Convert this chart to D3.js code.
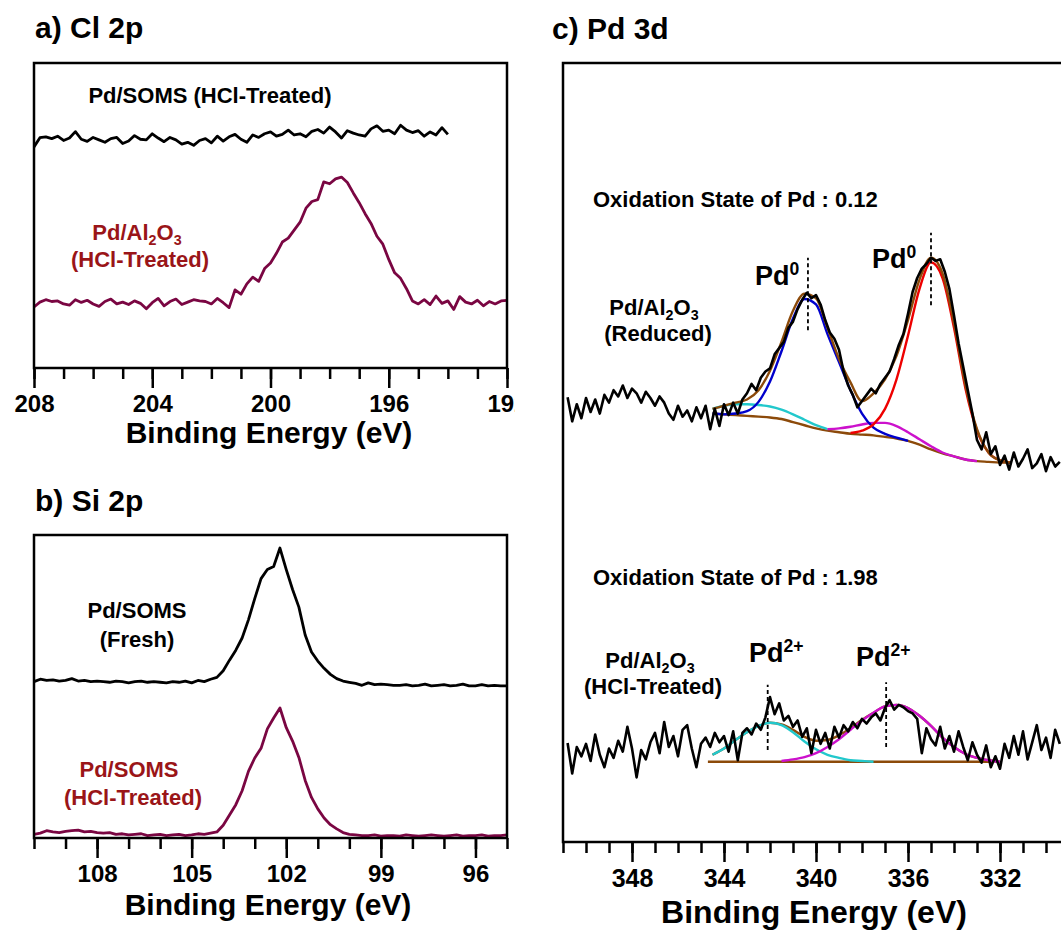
<!DOCTYPE html>
<html>
<head>
<meta charset="utf-8">
<script src="https://cdn.jsdelivr.net/npm/d3@7/dist/d3.min.js"></script>
<style>
body { margin: 0; background: #fff; }
text { font-family: "Liberation Sans", Arial, sans-serif; font-weight: bold; }
</style>
</head>
<body>
<svg id="chart" width="1061" height="932"></svg>
<script>
// ---- data (intensities in arbitrary units) ----

// a) Cl 2p
var clSomsRange = [208, 194];
var clSomsHcl = [72.5, 75.5, 75.8, 75.2, 76.0, 74.6, 75.4, 77.5, 75.0, 74.3, 75.6, 74.8, 74.0, 75.2, 75.6, 73.6,
	74.4, 76.2, 75.0, 74.8, 76.8, 75.4, 74.2, 75.6, 74.8, 73.4, 74.0, 73.0, 74.6, 75.2, 73.8, 76.0, 74.4, 75.8,
	76.6, 75.0, 74.0, 76.4, 75.6, 76.8, 77.4, 76.0, 76.6, 78.0, 76.4, 76.8, 75.8, 77.6, 78.2, 77.0, 79.0, 77.4,
	75.4, 77.8, 77.0, 76.4, 76.0, 78.4, 79.4, 77.6, 78.0, 76.8, 79.6, 78.0, 77.2, 77.8, 76.0, 77.4, 76.4, 78.8, 76.6];
var clAlRange = [208, 192];
var clAlHcl = [20.0, 21.6, 22.4, 21.8, 22.0, 21.0, 20.6, 22.4, 21.5, 22.2, 21.0, 20.2, 21.8, 22.6, 21.0, 21.6,
	20.8, 22.0, 21.2, 19.4, 21.4, 22.8, 20.4, 21.8, 22.6, 20.8, 21.6, 22.4, 22.0, 21.8, 21.0, 22.8, 21.4, 19.8,
	25.6, 24.2, 27.6, 29.8, 28.4, 32.6, 34.4, 37.6, 41.3, 42.6, 45.2, 47.8, 52.4, 54.6, 55.2, 61.0, 60.4, 62.0,
	62.6, 60.8, 57.4, 54.2, 50.6, 47.4, 43.2, 40.6, 35.6, 31.2, 29.4, 26.0, 22.0,
	21.0, 22.4, 20.8, 23.6, 21.2, 22.0, 19.2, 23.4, 21.6, 21.0, 22.2, 20.4, 21.8, 21.0, 22.0, 22.2];
var clTicks = [208, 204, 200, 196, 192];

// b) Si 2p
var siRange = [110, 95];
var siSomsFresh = [51.6, 52.4, 52.0, 52.2, 51.8, 52.0, 52.6, 51.8, 52.0, 51.6, 51.8, 51.6, 51.4, 51.8, 51.6, 51.2,
	51.6, 51.8, 51.4, 51.6, 51.4, 51.2, 51.6, 51.4, 51.8, 51.2, 52.0, 51.6, 52.4,
	53.0, 55.2, 58.7, 62.0, 66.0, 72.0, 79.0, 85.6, 88.6, 89.6, 95.7, 88.6, 82.0, 76.2, 67.0, 61.4, 58.4, 56.0,
	54.0, 52.6, 51.8,
	51.4, 51.0, 50.4, 51.2, 50.6, 50.8, 50.6, 50.4, 50.4, 50.6, 50.2, 50.4, 50.8, 50.2, 50.4, 50.6, 50.2, 50.4,
	50.8, 50.2, 50.2, 50.6, 50.2, 50.4, 50.2, 50.2];
var siSomsHcl = [1.2, 1.6, 2.4, 2.0, 1.8, 2.2, 2.4, 2.6, 2.0, 2.2, 1.8, 1.6, 1.8, 1.2, 1.4, 1.0, 1.2, 1.4, 0.8,
	1.0, 1.2, 0.8, 1.0, 1.2, 0.8, 1.0, 1.4, 1.2, 1.6,
	2.0, 4.2, 7.6, 11.0, 15.6, 22.0, 26.4, 29.6, 36.0, 39.6, 42.9, 36.4, 32.0, 26.6, 19.0, 13.4, 9.6, 6.6, 4.4,
	3.0, 1.8,
	1.2, 1.0, 0.8, 0.8, 1.0, 0.6, 0.8, 0.8, 0.6, 1.0, 0.8, 0.6, 0.8, 1.0, 0.8, 0.6, 0.8, 1.0, 0.6, 0.8, 0.8,
	1.0, 0.6, 0.8, 0.8, 1.0];
var siTicks = [108, 105, 102, 99, 96];

// c) Pd 3d
var pdRange = [350.8, 329.4];
var pdReduced = [57.1, 54.0, 56.2, 54.4, 57.0, 55.2, 56.8, 55.0, 57.4, 56.4, 58.0, 57.2, 58.6, 57.0, 58.2, 57.6,
	56.4, 57.8, 57.0, 56.0, 57.2, 56.4, 55.0, 54.2, 56.0,
	54.6, 55.4, 54.0, 55.8, 54.4, 56.0, 53.0, 55.6, 53.4, 56.2, 54.8, 56.4, 55.0, 56.8,
	57.6, 58.8, 58.0, 59.6, 60.4, 60.8, 62.6, 63.4, 64.2, 66.0, 66.8, 68.4, 69.6, 70.5, 69.8, 70.2, 69.0, 67.0,
	65.4, 64.6, 63.2, 60.4, 58.6, 57.4, 55.8, 56.6,
	57.4, 58.2, 57.6, 58.8, 59.6, 60.4, 62.0, 63.8, 65.2, 67.8, 70.6, 72.4, 73.6, 74.2, 75.0, 74.6, 74.8, 73.2,
	71.0, 67.6, 64.0, 61.0, 58.0, 55.0, 51.6,
	50.4, 52.6, 49.8, 50.8, 48.4, 49.6, 47.8, 50.0, 48.2, 49.2, 50.4, 48.0, 48.6, 49.8, 47.6, 49.4, 48.2, 48.8];
var pdHcl = [12.7, 8.8, 12.2, 11.0, 12.6, 10.4, 13.8, 11.2, 9.6, 12.0, 10.8, 13.0, 11.6, 14.8, 12.0, 8.3, 11.8,
	10.6, 12.8, 14.0, 11.4, 15.4, 12.2, 13.6, 11.0,
	14.4, 15.0, 12.0, 9.6, 12.6, 13.4, 12.2, 14.0, 12.8, 13.6, 11.6, 14.2, 10.5, 14.0,
	14.6, 13.8, 15.2, 14.4, 16.0, 18.6, 16.4, 17.8, 15.6, 16.2, 14.8, 15.6, 13.5, 14.6, 11.4, 14.4, 12.6, 14.0,
	12.0, 14.8, 13.4, 15.0, 14.2, 15.4, 14.6, 15.8,
	15.2, 16.0, 16.5, 15.6, 17.2, 18.2, 17.0, 17.6, 17.3, 16.8, 16.5, 15.8, 11.4, 14.6, 13.2, 12.4, 14.8, 12.0,
	13.6, 11.6, 14.2, 12.2, 10.5, 12.8, 11.2,
	10.2, 12.4, 9.6, 11.0, 9.4, 12.6, 10.8, 13.6, 11.2, 14.2, 10.6, 12.8, 15.0, 11.8, 13.4, 10.8, 14.4, 12.6];
var pdTicks = [348, 344, 340, 336, 332];

// peak fits, reduced sample (0.5 eV grid)
var redBgRange = [344.5, 331.5];
var redBg = [55.0, 54.9, 54.8, 54.7, 54.6, 54.5, 54.3, 53.9, 53.5, 53.1, 52.8, 52.6, 52.4, 52.3, 52.2, 52.0, 51.8,
	51.5, 51.0, 50.4, 49.9, 49.5, 49.1, 48.9, 48.8, 48.7, 48.7];
var redEnv = [55.6, 56.0, 56.4, 56.8, 58.0, 60.5, 64.2, 68.2, 70.4, 69.8, 66.0, 62.0, 59.0, 56.6, 57.6, 59.4, 62.4,
	67.0, 72.2, 75.0, 73.0, 66.6, 58.6, 53.0, 50.0, 49.0, 48.7];
var redBlueRange = [344.5, 336.0];
var redBlue = [55.0, 54.9, 55.0, 55.3, 56.5, 59.1, 63.0, 67.2, 69.7, 69.0, 65.2, 61.6, 58.0, 55.0, 53.2, 52.4,
	51.9, 51.5];
var redRedRange = [338.5, 331.5];
var redRed = [52.5, 52.8, 53.6, 55.6, 59.4, 65.0, 71.0, 74.4, 72.4, 66.0, 58.2, 52.8, 50.0, 49.0, 48.7];
var redCyanRange = [344.5, 339.5];
var redCyan = [55.6, 56.0, 56.2, 56.2, 56.1, 55.9, 55.5, 54.9, 54.2, 53.5, 53.0];
var redMagentaRange = [339.5, 333.0];
var redMagenta = [53.0, 53.1, 53.3, 53.6, 53.8, 53.8, 53.4, 52.6, 51.7, 50.8, 50.0, 49.5, 49.1, 48.9];

// peak fits, HCl-treated sample
var hclBgRange = [344.7, 332.3];
var hclBg = [10.3, 10.3];
var hclEnvRange = [344.5, 332.0];
var hclEnv = [11.2, 12.0, 13.1, 14.1, 14.9, 15.3, 15.1, 14.4, 13.5, 13.0, 13.1, 13.7, 14.6, 15.7, 16.6, 17.4,
	17.6, 17.2, 16.2, 14.9, 13.4, 12.2, 11.3, 10.8, 10.5, 10.3];
var hclCyanRange = [344.5, 337.5];
var hclCyan = [11.2, 12.0, 13.1, 14.1, 14.9, 15.3, 15.0, 14.1, 12.9, 11.9, 11.2, 10.8, 10.5, 10.4, 10.3];
var hclMagentaRange = [341.5, 332.0];
var hclMagenta = [10.4, 10.6, 10.9, 11.4, 12.2, 13.2, 14.4, 15.6, 16.6, 17.4, 17.6, 17.2, 16.2, 14.9, 13.4, 12.2,
	11.3, 10.8, 10.5, 10.3];

// peak markers (eV)
var pd0Peaks = [340.35, 335.0];
var pd2Peaks = [342.1, 336.95];

var maroon = "#7a0642";
var maroonText = "#9a1518";
var brown = "#8c4a0a";
var cyan = "#22c8cc";
var magenta = "#cc11cc";

// ---- drawing ----
var svg = d3.select("#chart");
svg.append("rect").attr("width", 1061).attr("height", 932).attr("fill", "#fff");
var defs = svg.append("defs");

var toPoints = function(range, values) {
	var n = values.length;
	return values.map(function(v, i) {
		return {e: range[0] + (range[1] - range[0]) * i / (n - 1), v: v};
	});
};

var makePanel = function(p) {
	var outer = svg.append("g");
	if (p.clipRight) {
		defs.append("clipPath").attr("id", p.id)
			.append("rect").attr("x", 0).attr("y", 0).attr("width", p.clipRight).attr("height", 932);
		outer.attr("clip-path", "url(#" + p.id + ")");
	}
	var x = d3.scaleLinear().domain(p.domain).range([p.left, p.right]);
	var y = d3.scaleLinear().domain([0, 100]).range([p.bottom, p.top]);
	var plot = outer.append("g");

	// minor + major ticks, labels only on majors
	var minor = d3.range(Math.ceil(Math.min.apply(null, p.domain)), Math.floor(Math.max.apply(null, p.domain)) + 1);
	var axisG = outer.append("g").attr("transform", "translate(0," + p.bottom + ")");
	axisG.append("g")
		.call(d3.axisBottom(x).tickValues(minor).tickSizeInner(11).tickSizeOuter(0).tickFormat(""));
	axisG.append("g")
		.call(d3.axisBottom(x).tickValues(p.ticks).tickSizeInner(20).tickSizeOuter(0).tickPadding(7)
			.tickFormat(d3.format("d")));
	axisG.selectAll(".domain").remove();
	axisG.selectAll("line").attr("stroke", "#000").attr("stroke-width", 2.5);
	axisG.selectAll("text").attr("fill", "#000").attr("font-size", p.tickFont)
		.attr("font-family", "Liberation Sans, Arial, sans-serif").attr("font-weight", "bold");

	outer.append("rect")
		.attr("x", p.left).attr("y", p.top)
		.attr("width", p.right - p.left).attr("height", p.bottom - p.top)
		.attr("fill", "none").attr("stroke", "#000").attr("stroke-width", 2.5);

	outer.append("text")
		.attr("x", p.titleX).attr("y", p.titleY)
		.attr("text-anchor", "middle").attr("font-size", p.titleFont)
		.text("Binding Energy (eV)");

	return {g: plot, x: x, y: y};
};

var drawLine = function(panel, pts, color, width, smooth) {
	var line = d3.line()
		.x(function(d) { return panel.x(d.e); })
		.y(function(d) { return panel.y(d.v); })
		.curve(smooth ? d3.curveMonotoneX : d3.curveLinear);
	panel.g.append("path")
		.datum(pts)
		.attr("d", line)
		.attr("fill", "none")
		.attr("stroke", color)
		.attr("stroke-width", width)
		.attr("stroke-linejoin", "round");
};

// label with optional sub/superscript parts
var label = function(x, y, parts, size, color, anchor) {
	var t = svg.append("text")
		.attr("x", x).attr("y", y)
		.attr("font-size", size)
		.attr("fill", color || "#000")
		.attr("text-anchor", anchor || "middle");
	var shift = 0;
	parts.forEach(function(p) {
		if (typeof p === "string") {
			t.append("tspan").attr("dy", -shift).text(p);
			shift = 0;
		} else {
			var d = p.sub ? size * 0.22 : -size * 0.36;
			t.append("tspan").attr("dy", d - shift).attr("font-size", size * 0.65).text(p.t);
			shift = d;
		}
	});
	return t;
};

var panelTitle = function(x, y, txt) {
	svg.append("text").attr("x", x).attr("y", y).attr("font-size", 30).text(txt);
};

// a) Cl 2p
var pa = makePanel({id: "clipA", clipRight: 515, domain: [208, 192], ticks: clTicks,
	left: 34, right: 507, top: 63, bottom: 368, tickFont: 24, titleX: 269, titleY: 443, titleFont: 30});
drawLine(pa, toPoints(clSomsRange, clSomsHcl), "#000", 2.8);
drawLine(pa, toPoints(clAlRange, clAlHcl), maroon, 2.8);
panelTitle(35, 38, "a) Cl 2p");
label(210, 103, ["Pd/SOMS (HCl-Treated)"], 22);
label(137, 240, ["Pd/Al", {t: "2", sub: true}, "O", {t: "3", sub: true}], 22, maroonText);
label(140, 267, ["(HCl-Treated)"], 22, maroonText);

// b) Si 2p
var pb = makePanel({domain: [110, 95], ticks: siTicks,
	left: 34, right: 507, top: 535, bottom: 838, tickFont: 24, titleX: 268, titleY: 915, titleFont: 30});
drawLine(pb, toPoints(siRange, siSomsFresh), "#000", 2.8);
drawLine(pb, toPoints(siRange, siSomsHcl), maroon, 2.8);
panelTitle(35, 511, "b) Si 2p");
label(137, 618, ["Pd/SOMS"], 22);
label(137, 647, ["(Fresh)"], 22);
label(129, 777, ["Pd/SOMS"], 22, maroonText);
label(133, 805, ["(HCl-Treated)"], 22, maroonText);

// c) Pd 3d
var pc = makePanel({domain: [351, 329], ticks: pdTicks,
	left: 563, right: 1069, top: 63, bottom: 842, tickFont: 25, titleX: 814, titleY: 923, titleFont: 32});

drawLine(pc, toPoints(redBgRange, redBg), brown, 2.4, true);
drawLine(pc, toPoints(redCyanRange, redCyan), cyan, 2.4, true);
drawLine(pc, toPoints(redMagentaRange, redMagenta), magenta, 2.4, true);
drawLine(pc, toPoints(redBlueRange, redBlue), "#0000cc", 2.4, true);
drawLine(pc, toPoints(redRedRange, redRed), "#ee0000", 2.4, true);
drawLine(pc, toPoints(redBgRange, redEnv), brown, 2.4, true);
drawLine(pc, toPoints(pdRange, pdReduced), "#000", 2.6);

drawLine(pc, toPoints(hclBgRange, hclBg), brown, 2.4);
drawLine(pc, toPoints(hclEnvRange, hclEnv), brown, 2.4, true);
drawLine(pc, toPoints(hclCyanRange, hclCyan), cyan, 2.4, true);
drawLine(pc, toPoints(hclMagentaRange, hclMagenta), magenta, 2.4, true);
drawLine(pc, toPoints(pdRange, pdHcl), "#000", 2.6);

// dashed peak markers
var markerSpans = [[65.7, 75.0], [68.9, 78.2]];
pc.g.selectAll("line.pd0").data(pd0Peaks).enter().append("line")
	.attr("x1", function(d) { return pc.x(d); }).attr("x2", function(d) { return pc.x(d); })
	.attr("y1", function(d, i) { return pc.y(markerSpans[i][0]); })
	.attr("y2", function(d, i) { return pc.y(markerSpans[i][1]); })
	.attr("stroke", "#000").attr("stroke-width", 1.8).attr("stroke-dasharray", "4,3");
var marker2Spans = [[11.8, 20.2], [12.2, 20.5]];
pc.g.selectAll("line.pd2").data(pd2Peaks).enter().append("line")
	.attr("x1", function(d) { return pc.x(d); }).attr("x2", function(d) { return pc.x(d); })
	.attr("y1", function(d, i) { return pc.y(marker2Spans[i][0]); })
	.attr("y2", function(d, i) { return pc.y(marker2Spans[i][1]); })
	.attr("stroke", "#000").attr("stroke-width", 1.8).attr("stroke-dasharray", "4,3");

panelTitle(552, 39, "c) Pd 3d");
label(593, 207, ["Oxidation State of Pd : 0.12"], 22, "#000", "start");
label(593, 585, ["Oxidation State of Pd : 1.98"], 22, "#000", "start");
label(755, 285, ["Pd", {t: "0"}], 27, "#000", "start");
label(872, 268, ["Pd", {t: "0"}], 27, "#000", "start");
label(749, 662, ["Pd", {t: "2+"}], 27, "#000", "start");
label(856, 666, ["Pd", {t: "2+"}], 27, "#000", "start");
label(654, 315, ["Pd/Al", {t: "2", sub: true}, "O", {t: "3", sub: true}], 22);
label(658, 341, ["(Reduced)"], 22);
label(650, 668, ["Pd/Al", {t: "2", sub: true}, "O", {t: "3", sub: true}], 22);
label(653, 694, ["(HCl-Treated)"], 22);
</script>
</body>
</html>
